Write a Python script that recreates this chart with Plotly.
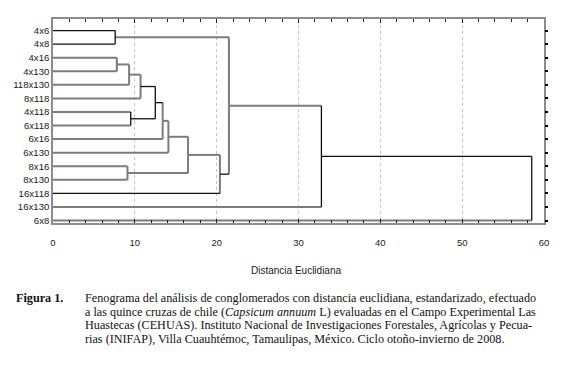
import plotly.graph_objects as go

# ---- data ----
leaves = ["4x6", "4x8", "4x16", "4x130", "118x130", "8x118", "4x118", "6x118",
          "6x16", "6x130", "8x16", "8x130", "16x118", "16x130", "6x8"]
merge_left = ["4x6", "4x16", "m1", "m2", "4x118", "m3", "m5", "m6", "8x16",
              "m7", "m9", "m0", "m11", "m12"]
merge_right = ["4x8", "4x130", "118x130", "8x118", "6x118", "m4", "6x16", "6x130",
               "8x130", "m8", "16x118", "m10", "16x130", "6x8"]
merge_height = [7.6, 7.8, 9.3, 10.7, 9.5, 12.5, 13.4, 14.1, 9.1, 16.5, 20.4,
                21.5, 32.8, 58.5]
x_ticks = [0, 10, 20, 30, 40, 50, 60]

# style per merge: (left arm, vertical, right arm)  k = black, g = gray
seg_style = ["kkk", "ggg", "ggg", "ggg", "gkg", "kkk", "kgg", "ggg", "ggg",
             "ggg", "ggk", "ggk", "gkg", "kkg"]

# ---- build dendrogram segments ----
pos = {name: (0.0, float(i)) for i, name in enumerate(leaves)}
segs = {"k": ([], []), "g": ([], [])}


def add(style, xs, ys):
    sx, sy = segs[style]
    sx.extend(xs + [None])
    sy.extend(ys + [None])


for i, (a, b, h) in enumerate(zip(merge_left, merge_right, merge_height)):
    xa, ya = pos[a]
    xb, yb = pos[b]
    st = seg_style[i]
    add(st[0], [xa, h], [ya, ya])
    add(st[1], [h, h], [ya, yb])
    add(st[2], [xb, h], [yb, yb])
    pos["m%d" % i] = (h, (ya + yb) / 2)

fig = go.Figure()
fig.add_trace(go.Scatter(x=segs["g"][0], y=segs["g"][1], mode="lines",
                         line=dict(color="#7c7c7c", width=2),
                         hoverinfo="skip", showlegend=False))
fig.add_trace(go.Scatter(x=segs["k"][0], y=segs["k"][1], mode="lines",
                         line=dict(color="#111111", width=1.3),
                         hoverinfo="skip", showlegend=False))
# invisible trace for right axis ticks
fig.add_trace(go.Scatter(x=[None], y=[None], yaxis="y2", showlegend=False,
                         hoverinfo="skip"))

SANS = "Liberation Sans, Arial, sans-serif"
yr = [14.18, -0.85]
# page has an 8px body margin: figure is drawn from (8, 8)
fig.update_layout(
    width=568, height=357,
    margin=dict(l=45, r=32, t=11, b=142, autoexpand=False),
    paper_bgcolor="white", plot_bgcolor="white",
    font=dict(family=SANS, color="#1a1a1a"),
    xaxis=dict(range=[0, 60], tickvals=x_ticks, ticks="inside", ticklen=4,
               tickcolor="#222", tickwidth=1, mirror="ticks", showline=True,
               linecolor="#8c8c8c", linewidth=1.5, showgrid=True,
               gridcolor="#c4c4c4", griddash="dot", gridwidth=1,
               zeroline=False, tickfont=dict(size=9.5), automargin=False,
               ticklabelstandoff=10,
               minor=dict(dtick=2, ticks="inside", ticklen=3, tickcolor="#222",
                          showgrid=False)),
    yaxis=dict(range=yr, tickvals=list(range(len(leaves))), ticktext=leaves,
               ticks="", showline=True, linecolor="#8c8c8c", linewidth=1.5,
               mirror=True, showgrid=False, zeroline=False, automargin=False,
               tickfont=dict(size=9.6)),
    yaxis2=dict(range=yr, overlaying="y", side="right", anchor="x",
                tickvals=list(range(len(leaves))), ticks="outside", ticklen=3,
                tickwidth=2, tickcolor="#000", showticklabels=False,
                showline=False, showgrid=False, zeroline=False,
                automargin=False),
)

H = 204.0
W = 491.0


def py(Y):
    return (223 - Y) / H


def px(X):
    return (X - 53) / W


fig.add_annotation(text="Distancia Euclidiana", xref="paper", yref="paper",
                   x=px(296.3), y=py(270.7), xanchor="center", yanchor="middle",
                   showarrow=False, font=dict(size=10, color="#1a1a1a"))

cap_font = dict(family="Liberation Serif, Times New Roman, serif", size=12.2,
                color="#111")
fig.add_annotation(text="<b>Figura 1.</b>", xref="paper", yref="paper",
                   x=px(14), y=py(298), xanchor="left", yanchor="middle",
                   showarrow=False, font=cap_font)
cap_lines = [
    "Fenograma del análisis de conglomerados con distancia euclidiana, estandarizado, efectuado",
    "a las quince cruzas de chile (<i>Capsicum annuum</i> L) evaluadas en el Campo Experimental Las",
    "Huastecas (CEHUAS). Instituto Nacional de Investigaciones Forestales, Agrícolas y Pecua-",
    "rias (INIFAP), Villa Cuauhtémoc, Tamaulipas, México. Ciclo otoño-invierno de 2008.",
]
for k, line in enumerate(cap_lines):
    fig.add_annotation(text=line, xref="paper", yref="paper",
                       x=px(82.7), y=py(298 + 13.5 * k), xanchor="left",
                       yanchor="middle", showarrow=False, font=cap_font)

fig.write_html("out.html")
